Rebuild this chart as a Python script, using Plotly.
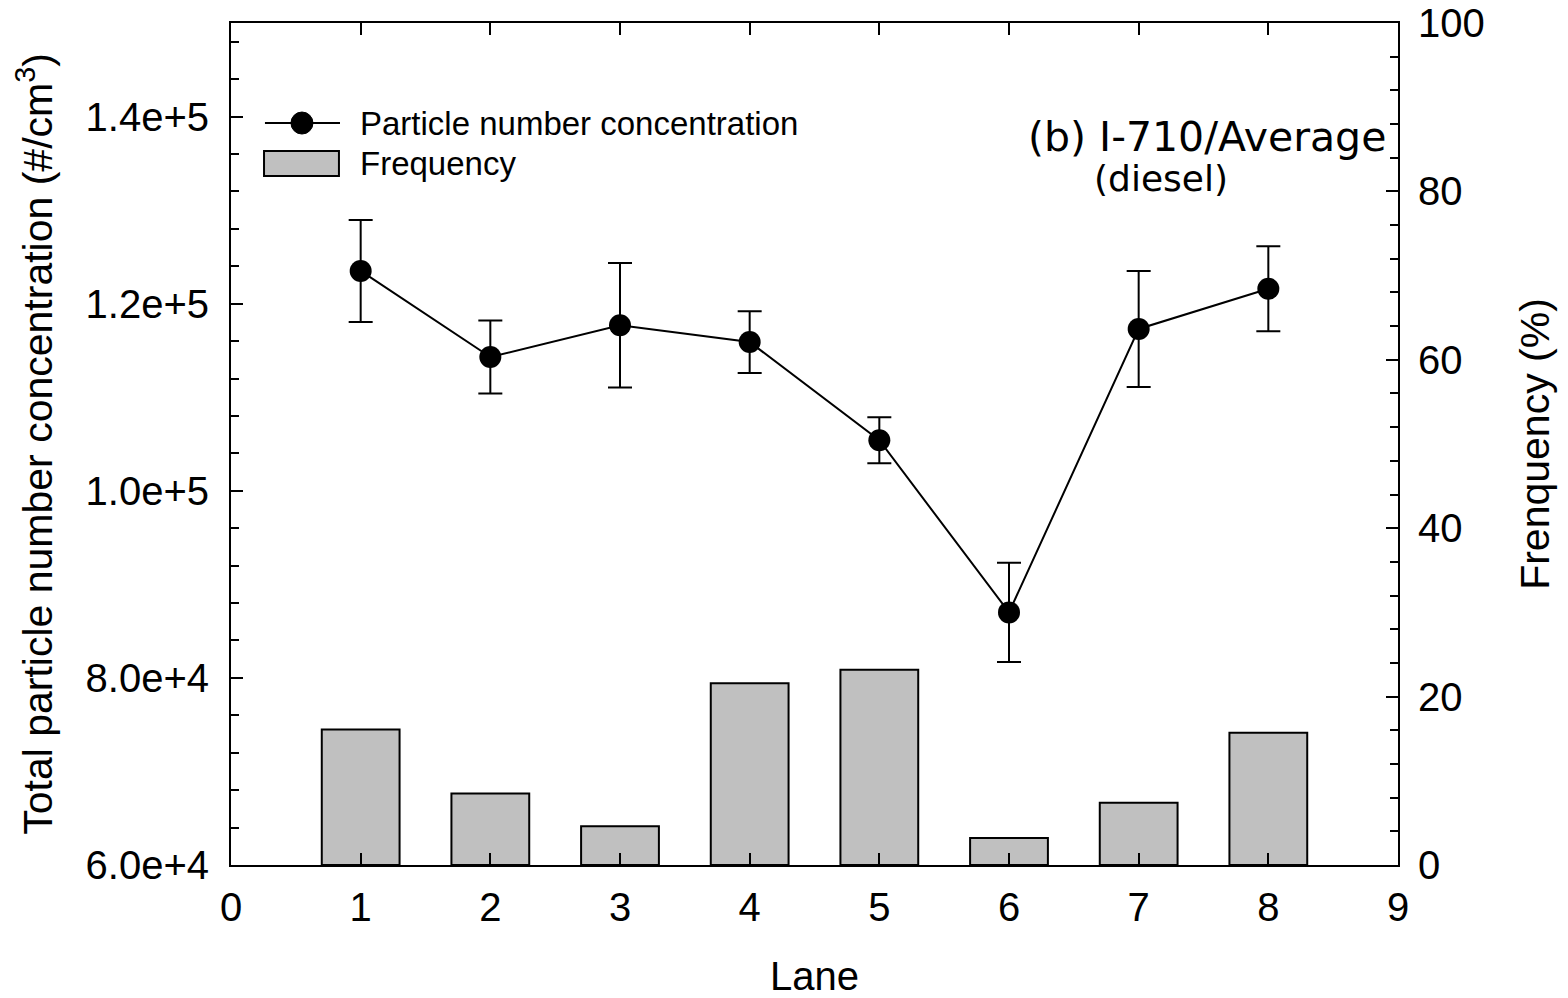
import plotly.graph_objects as go

lanes = [1, 2, 3, 4, 5, 6, 7, 8]
pnc = [123500, 114300, 117700, 115900, 105400, 87000, 117300, 121600]
pnc_err = [5450, 3900, 6650, 3300, 2450, 5300, 6200, 4550]
freq = [16.1, 8.5, 4.6, 21.6, 23.2, 3.2, 7.4, 15.7]

FONT = "Liberation Sans, Arial, sans-serif"
BAR_FILL = "#C0C0C0"

fig = go.Figure()
fig.add_trace(go.Scatter(
    x=lanes, y=pnc, mode="lines+markers", name="Particle number concentration",
    line=dict(color="black", width=2),
    marker=dict(color="black", size=22),
    error_y=dict(type="data", array=pnc_err, color="black", thickness=2, width=12),
    yaxis="y", showlegend=False,
))
fig.add_trace(go.Bar(
    x=lanes, y=freq, name="Frequency", width=0.6,
    marker=dict(color=BAR_FILL, line=dict(color="black", width=2)),
    yaxis="y2", showlegend=False,
))

axis_common = dict(
    showline=True, linecolor="black", linewidth=2,
    ticks="inside", tickcolor="black", tickwidth=2, ticklen=12,
    showgrid=False, zeroline=False, automargin=False,
    tickfont=dict(family=FONT, size=40, color="black"),
)

# hand-drawn legend (mimics the original legend box)
legend_shapes = [
    dict(type="line", xref="paper", yref="paper", x0=0.0291, x1=0.0934, y0=0.8812, y1=0.8812,
         line=dict(color="black", width=2)),
    dict(type="circle", xref="paper", yref="paper", xsizemode="pixel", ysizemode="pixel",
         xanchor=0.0608, yanchor=0.8812, x0=-11, x1=11, y0=-11, y1=11,
         fillcolor="black", line=dict(color="black", width=1)),
    dict(type="rect", xref="paper", yref="paper", x0=0.0283, x1=0.0925, y0=0.8183, y1=0.848,
         fillcolor=BAR_FILL, line=dict(color="black", width=2)),
]
legend_texts = [
    dict(text="Particle number concentration", xref="paper", yref="paper", x=0.1088, y=0.8812,
         xanchor="left", yanchor="middle", showarrow=False,
         font=dict(family=FONT, size=33, color="black")),
    dict(text="Frequency", xref="paper", yref="paper", x=0.1088, y=0.8337,
         xanchor="left", yanchor="middle", showarrow=False,
         font=dict(family=FONT, size=33, color="black")),
]

fig.update_layout(
    width=1568, height=998,
    margin=dict(l=231, r=170, t=23, b=133),
    paper_bgcolor="white", plot_bgcolor="white",
    font=dict(family=FONT, color="black"),
    showlegend=False,
    bargap=0.4,
    xaxis=dict(
        range=[0, 9], tickmode="linear", tick0=0, dtick=1, mirror="ticks",
        ticklabelstandoff=6,
        title=dict(text="Lane", font=dict(family=FONT, size=40, color="black"), standoff=44),
        **axis_common,
    ),
    yaxis=dict(
        range=[60000, 150000], tickmode="array",
        tickvals=[60000, 80000, 100000, 120000, 140000],
        ticktext=["6.0e+4", "8.0e+4", "1.0e+5", "1.2e+5", "1.4e+5"],
        ticklabelstandoff=12,
        minor=dict(dtick=4000, tick0=60000, ticks="inside", ticklen=8, tickwidth=2, tickcolor="black"),
        title=dict(text="Total particle number concentration (#/cm<sup>3</sup>)",
                   font=dict(family=FONT, size=41, color="black"), standoff=20),
        **axis_common,
    ),
    yaxis2=dict(
        range=[0, 100], overlaying="y", side="right", tickmode="linear", tick0=0, dtick=20,
        ticklabelstandoff=10,
        minor=dict(dtick=4, ticks="inside", ticklen=8, tickwidth=2, tickcolor="black"),
        title=dict(text="Frenquency (%)", font=dict(family=FONT, size=41, color="black"), standoff=37),
        **axis_common,
    ),
    shapes=legend_shapes,
    annotations=legend_texts + [
        dict(text="(b) I-710/Average", xref="paper", yref="paper", x=0.9914, y=0.8646,
             xanchor="right", yanchor="middle", showarrow=False,
             font=dict(family="DejaVu Sans", size=41, color="black")),
        dict(text="(diesel)", xref="paper", yref="paper", x=0.797, y=0.8159,
             xanchor="center", yanchor="middle", showarrow=False,
             font=dict(family="DejaVu Sans", size=36, color="black")),
    ],
)

fig.write_html("out.html")
